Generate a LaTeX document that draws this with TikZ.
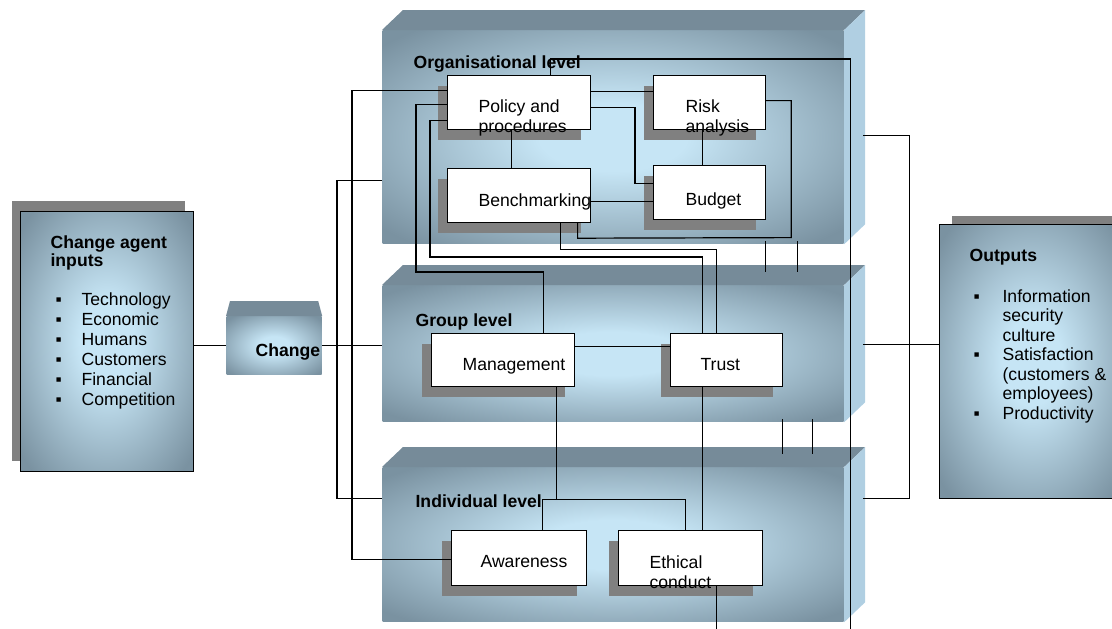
\documentclass[tikz,border=0pt]{standalone}
\usepackage{fontspec}
\setmainfont{Liberation Sans}
\usepackage{xcolor}
\usepackage{tikz}
\usetikzlibrary{shadows}
\definecolor{glowin}{RGB}{198,229,245}
\definecolor{glowout}{RGB}{122,146,161}
\definecolor{topshade}{RGB}{118,139,153}
\definecolor{sideshade}{RGB}{176,207,226}
\definecolor{shadowgray}{RGB}{128,128,128}
\pgfdeclareradialshading{glow}{\pgfpoint{0bp}{0bp}}{color(0bp)=(glowin); color(8bp)=(glowin); color(33bp)=(glowout); color(50bp)=(glowout)}
\newcommand{\bsq}[1][26pt]{\makebox[#1][l]{▪}}
\tikzstyle{glowbox}=[shade,shading=glow,anchor=north west,inner sep=0pt]
\tikzstyle{tier}=[glowbox,minimum width=461pt]
\tikzstyle{unitbox}=[draw=black,fill=white,anchor=north west,inner sep=0pt,
drop shadow={shadow xshift=-10pt,shadow yshift=-10pt,fill=shadowgray,opacity=1}]
\tikzstyle{txt}=[inner sep=0pt,anchor=north west,align=left,
font=\fontsize{17.6}{20}\selectfont]
\tikzstyle{ttl}=[txt,font=\fontsize{17.6}{18}\selectfont\bfseries]

\begin{document}
\begin{tikzpicture}[x=1pt,y=-1pt,line width=1.2pt]
	\useasboundingbox (0,0) rectangle (1112,629);
	\coordinate (bot) at (0,629);

	% inputs, change, outputs
	\node[glowbox,draw,minimum width=173pt,minimum height=260pt,
	general shadow={fill=shadowgray,shadow xshift=-9pt,shadow yshift=11pt}] (inp) at (20,211) {};
	\node[glowbox,minimum width=95pt,minimum height=58pt] (chg) at (226,316) {};
	\fill[topshade] (chg.north west) -- ++(4,-15) -- ([shift={(-4,-15)}]chg.north east) -- (chg.north east) -- cycle;
	\node[glowbox,draw,minimum width=185pt,minimum height=274pt,
	general shadow={fill=shadowgray,shadow xshift=12pt,shadow yshift=9pt}] (out) at (939,224) {};

	% levels
	\node[tier,minimum height=213pt] (org) at (382,30) {};
	\node[tier,minimum height=136pt] (grp) at (382,285) {};
	\node[tier,minimum height=154pt] (ind) at (382,467) {};
	\foreach \lv in {org,grp,ind}{
		\fill[topshade] (\lv.north west) -- ++(21,-20) -- ([shift={(21,-20)}]\lv.north east) -- (\lv.north east) -- cycle;
		\fill[sideshade] (\lv.north east) -- ++(21,-20) -- ([shift={(21,-20)}]\lv.south east) -- (\lv.south east) -- cycle;
	}

	% units
	\node[unitbox,minimum width=143pt,minimum height=54pt] (pol) at (447,75) {};
	\node[unitbox,minimum width=112pt,minimum height=54pt] (risk) at (653,75) {};
	\node[unitbox,minimum width=143pt,minimum height=54pt] (bench) at (447,168) {};
	\node[unitbox,minimum width=112pt,minimum height=54pt] (bud) at (653,165) {};
	\node[unitbox,minimum width=143pt,minimum height=53pt] (mgmt) at (431,333) {};
	\node[unitbox,minimum width=112pt,minimum height=53pt] (trust) at (670,333) {};
	\node[unitbox,minimum width=135pt,minimum height=55pt] (aware) at (451,530) {};
	\node[unitbox,minimum width=144pt,minimum height=55pt] (eth) at (618,530) {};

	% texts
	\node[ttl] (inptl) at (50,235) {Change agent\\inputs};
	\node[txt] (inplst) at (55,292) {\bsq Technology\\\bsq Economic\\\bsq Humans\\\bsq Customers\\\bsq Financial\\\bsq Competition};
	\node[ttl] (chgtl) at (255,343) {Change};
	\node[ttl] (outtl) at (969,249) {Outputs};
	\node[txt,font=\fontsize{17.6}{19.5}\selectfont] (outlst) at (973,289) {\bsq[29pt]Information\\\hspace*{29pt}security\\\hspace*{29pt}culture\\\bsq[29pt]Satisfaction\\\hspace*{29pt}(customers \&\\\hspace*{29pt}employees)\\\bsq[29pt]Productivity};
	\node[ttl] (orgtl) at (413,55) {Organisational level};
	\node[ttl] (grptl) at (415,313) {Group level};
	\node[ttl] (indtl) at (415,494) {Individual level};
	\node[txt] (poltx) at (478,99) {Policy and\\procedures};
	\node[txt] (risktx) at (685,99) {Risk\\analysis};
	\node[txt] (benchtx) at (478,193) {Benchmarking};
	\node[txt] (budtx) at (685,192) {Budget};
	\node[txt] (mgmttx) at (462,358) {Management};
	\node[txt] (trusttx) at (700,358) {Trust};
	\node[txt] (awaretx) at (480,555) {Awareness};
	\node[txt] (ethtx) at (649,555) {Ethical\\conduct};

	% connectors
	\draw (chg.west -| inp.east) -- (chg.west);
	\draw (chg.east) -- (chg.east -| grp.west);
	\draw ([yshift=-43.5pt]org.west) -- ++(-45,0) |- ([yshift=46pt]ind.west);

	\draw ([yshift=12pt]pol.west) -- ++(-95,0) |- ([yshift=-1.5pt]aware.west);
	\draw ([yshift=-2pt]pol.west) -- ++(-31,0) |- ([xshift=40.5pt,yshift=61pt]mgmt.north) -- ([xshift=40.5pt]mgmt.north);
	\draw ([yshift=-18pt]pol.west) -- ++(-17,0) |- ([xshift=-24pt,yshift=76pt]trust.north) -- ([xshift=-24pt]trust.north);
	\draw ([xshift=31.5pt]pol.north) -- ++(0,-16) -| ([xshift=6pt]org.east |- bot);

	\draw ([yshift=11pt]pol.east) -- ([yshift=11pt]risk.west);
	\draw ([yshift=-5pt]pol.east) -| ([xshift=-18pt,yshift=9pt]bud.west) -- ([yshift=9pt]bud.west);
	\draw ([xshift=-8pt]pol.south) -- ([xshift=-8pt]bench.north);
	\draw ([xshift=-7pt]risk.south) -- ([xshift=-7pt]bud.north);
	\draw ([yshift=-6pt]bench.east) -- ([yshift=-6pt]bench.east -| bud.west);
	\draw ([yshift=2pt]risk.east) -| ++(25,137) -- ([xshift=58.5pt,yshift=-15pt]bench.south) -- ([xshift=58.5pt]bench.south);
	\draw ([xshift=41.5pt]bench.south) -- ++(0,26) -| ([xshift=-10pt]trust.north);

	\foreach \dx in {152.5,184.5}
		\draw ([shift={(\dx pt,3pt)}]org.south) -- ([shift={(\dx pt,13pt)}]grp.north);
	\foreach \dx in {169.5,199.5}
		\draw ([shift={(\dx pt,3pt)}]grp.south) -- ([shift={(\dx pt,13pt)}]ind.north);

	\draw ([yshift=13.5pt]mgmt.east) -- ([yshift=13.5pt]trust.west);
	\draw ([xshift=53.5pt]mgmt.south) -- ++(0,112) coordinate (mjoin);
	\draw ([xshift=23.5pt]aware.north) |- (mjoin) -| ([xshift=-5pt]eth.north);
	\draw ([xshift=-24pt]trust.south) -- ([xshift=-24pt]trust.south |- eth.north);
	\draw ([xshift=26pt]eth.south) -- ([xshift=26pt]eth.south |- bot);

	\draw ([shift={(19pt,1.5pt)}]org.east) -- ++(46,0) |- ([shift={(19pt,46pt)}]ind.east);
	\draw ([shift={(19pt,9pt)}]grp.east) -- ([yshift=17pt]out.west);
\end{tikzpicture}
\end{document}
